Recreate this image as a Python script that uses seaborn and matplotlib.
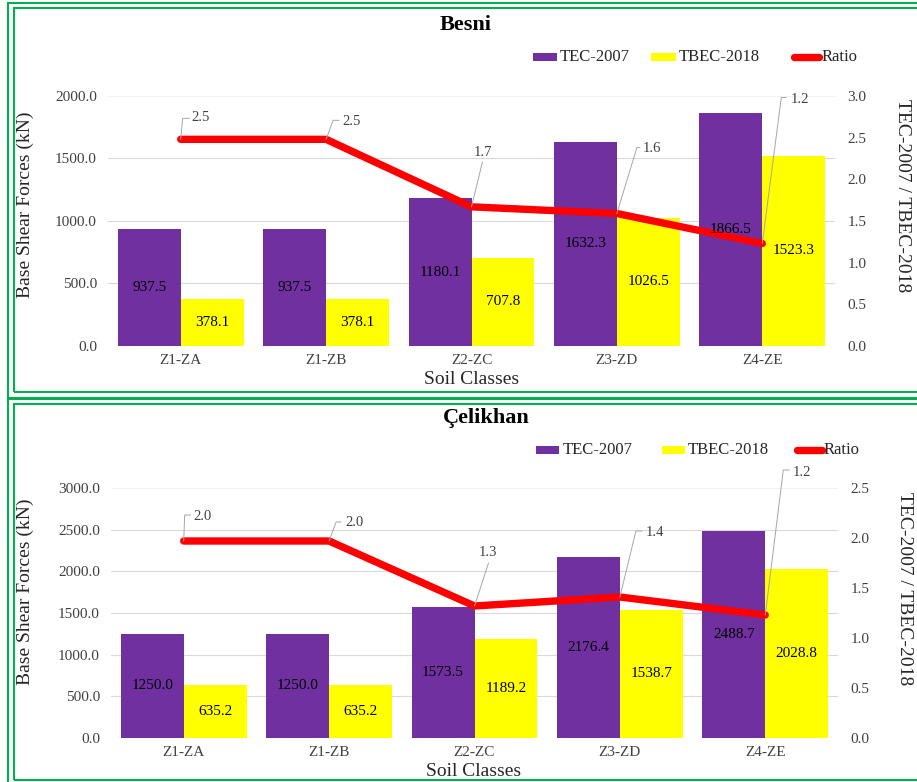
import numpy as np
import pandas as pd
import matplotlib
matplotlib.use("Agg")
import matplotlib.pyplot as plt
import matplotlib.transforms as mtransforms
from matplotlib.patches import Rectangle
from matplotlib.lines import Line2D
import seaborn as sns

# ---------------- data ----------------
soil_classes = ["Z1-ZA", "Z1-ZB", "Z2-ZC", "Z3-ZD", "Z4-ZE"]
codes = ["TEC-2007", "TBEC-2018"]

besni_tec2007 = [937.5, 937.5, 1180.1, 1632.3, 1866.5]
besni_tbec2018 = [378.1, 378.1, 707.8, 1026.5, 1523.3]
besni_ratio = [2.48, 2.48, 1.67, 1.59, 1.23]

celikhan_tec2007 = [1250.0, 1250.0, 1573.5, 2176.4, 2488.7]
celikhan_tbec2018 = [635.2, 635.2, 1189.2, 1538.7, 2028.8]
celikhan_ratio = [1.97, 1.97, 1.32, 1.41, 1.23]

besni_force_ticks = [0, 500, 1000, 1500, 2000]
besni_ratio_ticks = [0.0, 0.5, 1.0, 1.5, 2.0, 2.5, 3.0]
celikhan_force_ticks = [0, 500, 1000, 1500, 2000, 2500, 3000]
celikhan_ratio_ticks = [0.0, 0.5, 1.0, 1.5, 2.0, 2.5]

# ---------------- style ----------------
PURPLE = "#7030A0"
YELLOW = "#FFFF00"
RED = "#FF0000"
GREEN = "#00B050"
GRID = "#D9D9D9"
TICK = "#404040"

sns.set_style("white")
plt.rcParams["font.family"] = ["Liberation Serif", "DejaVu Serif"]

W, H = 917, 782
fig = plt.figure(figsize=(W / 100, H / 100), dpi=100)


def px_rect(x0, y0, x1, y1):
    return [x0 / W, 1 - y1 / H, (x1 - x0) / W, (y1 - y0) / H]


def fx(x):
    return x / W


def fy(y):
    return 1 - y / H


# double green frame around each panel
for (x0, y0, x1, y1) in [(8.3, 2.5, 940, 397.5), (13.7, 7.5, 935, 392.0),
                         (8.3, 398.5, 940, 800), (13.7, 403.5, 935, 779.5)]:
    fig.add_artist(Rectangle((fx(x0), fy(y1)), (x1 - x0) / W, (y1 - y0) / H,
                             transform=fig.transFigure, fill=False,
                             edgecolor=GREEN, linewidth=1.5))


def draw_panel(title, tec, tbec, ratio, force_ticks, ratio_ticks, box,
               title_xy, xlabel_xy, ylabel_xy, y2label_xy, legend_spec, leaders):
    df = pd.DataFrame({
        "Soil": soil_classes * 2,
        "Code": [codes[0]] * len(tec) + [codes[1]] * len(tbec),
        "Force": list(tec) + list(tbec),
    })
    ax = fig.add_axes(px_rect(*box))
    sns.barplot(data=df, x="Soil", y="Force", hue="Code",
                palette=[PURPLE, YELLOW], saturation=1, width=0.866,
                errorbar=None, legend=False, ax=ax, edgecolor="none")

    ax.set_ylim(0, force_ticks[-1])
    ax.set_yticks(force_ticks)
    ax.set_yticklabels([f"{v:.1f}" for v in force_ticks])
    ax.set_xlabel("")
    ax.set_ylabel("")
    ax.yaxis.grid(True, color=GRID, linewidth=0.8)
    ax.xaxis.grid(False)
    ax.set_axisbelow(True)
    for s in ax.spines.values():
        s.set_visible(False)
    ax.tick_params(axis="both", length=0)
    ax.tick_params(axis="y", pad=8, labelsize=11, labelcolor=TICK)
    ax.tick_params(axis="x", pad=6, labelsize=11, labelcolor=TICK)
    ax.yaxis.get_gridlines()[-1].set_color("#F2F2F2")

    ax2 = ax.twinx()
    sns.lineplot(x=np.arange(len(ratio)), y=ratio, ax=ax2, color=RED,
                 linewidth=5.3, solid_capstyle="round", solid_joinstyle="round",
                 sort=False)
    ax2.set_ylim(0, ratio_ticks[-1])
    ax2.set_yticks(ratio_ticks)
    ax2.set_yticklabels([f"{v:.1f}" for v in ratio_ticks])
    ax2.set_ylabel("")
    ax2.grid(False)
    for s in ax2.spines.values():
        s.set_visible(False)
    ax2.tick_params(axis="both", length=0)
    ax2.tick_params(axis="y", pad=9, labelsize=11, labelcolor=TICK)
    ax.set_xlim(-0.5, len(soil_classes) - 0.5)

    # bar values, centred in each bar, drawn above the ratio line
    for container in ax.containers:
        for bar in container:
            h = bar.get_height()
            ax2.text(bar.get_x() + bar.get_width() / 2, h / 2, f"{h:.1f}",
                     transform=ax.transData, ha="center", va="center",
                     fontsize=11, color="black", zorder=5)

    # ratio labels with leader lines
    for i, (r, (cx, cy, ex, ey, lx, ly, ha)) in enumerate(zip(ratio, leaders)):
        tr = mtransforms.IdentityTransform() + \
            mtransforms.ScaledTranslation(i, r, ax2.transData)
        fig.add_artist(Line2D([0, cx, ex], [0, cy, ey], transform=tr,
                              color="#A6A6A6", linewidth=0.7))
        ax2.annotate(f"{r:.1f}", xy=(i, r), xytext=(lx, ly),
                     textcoords="offset pixels", ha=ha, va="center",
                     fontsize=10.5, color=TICK, annotation_clip=False)

    # titles and axis labels
    fig.text(fx(title_xy[0]), fy(title_xy[1]), title, ha="center", va="center",
             fontsize=16, fontweight="bold", color="black")
    fig.text(fx(xlabel_xy[0]), fy(xlabel_xy[1]), "Soil Classes", ha="center",
             va="center", fontsize=14, color="#262626")
    fig.text(fx(ylabel_xy[0]), fy(ylabel_xy[1]), "Base Shear Forces (kN)",
             ha="center", va="center", rotation=90, fontsize=14, color="#262626")
    fig.text(fx(y2label_xy[0]), fy(y2label_xy[1]), "TEC-2007 / TBEC-2018",
             ha="center", va="center", rotation=270, fontsize=14, color="#262626")

    # legend
    (p0, p1, pt), (y0_, y1_, yt), (r0, r1, rt), ly_ = legend_spec
    for (a, b), c in [((p0, p1), PURPLE), ((y0_, y1_), YELLOW)]:
        fig.add_artist(Rectangle((fx(a), fy(ly_ + 4.2)), (b - a) / W, 8.4 / H,
                                 transform=fig.transFigure, facecolor=c,
                                 edgecolor="none"))
    fig.add_artist(Line2D([fx(r0), fx(r1)], [fy(ly_), fy(ly_)],
                          transform=fig.transFigure, color=RED, linewidth=5.3,
                          solid_capstyle="round"))
    for x, t in [(pt, codes[0]), (yt, codes[1]), (rt, "Ratio")]:
        fig.text(fx(x), fy(ly_), t, ha="left", va="center", fontsize=12,
                 color="#262626")
    return ax, ax2


draw_panel(
    "Besni", besni_tec2007, besni_tbec2018, besni_ratio,
    besni_force_ticks, besni_ratio_ticks,
    box=(108, 96, 835, 346),
    title_xy=(466, 25), xlabel_xy=(472, 380), ylabel_xy=(25, 205),
    y2label_xy=(903, 196),
    legend_spec=((533, 557, 560), (651, 676, 679), (794, 819, 822), 57),
    leaders=[(2, 21, 9, 21, 11, 22, "left"), (7, 19, 13, 19, 16, 18, "left"),
             (11, 45, 11, 45, 11, 54, "center"), (20, 66, 23, 66, 26, 65, "left"),
             (19, 146, 24, 146, 28, 144, "left")],
)

draw_panel(
    "Çelikhan", celikhan_tec2007, celikhan_tbec2018, celikhan_ratio,
    celikhan_force_ticks, celikhan_ratio_ticks,
    box=(111, 488, 838, 738),
    title_xy=(486, 418), xlabel_xy=(474, 771), ylabel_xy=(25, 592),
    y2label_xy=(905, 589),
    legend_spec=((536, 559, 563), (662, 685, 688), (797, 822, 824), 450),
    leaders=[(1, 26, 7, 26, 10, 25, "left"), (7, 19, 12, 19, 16, 19, "left"),
             (14, 43, 14, 43, 13, 53, "center"), (16, 66, 22, 66, 26, 64, "left"),
             (18, 145, 24, 145, 27, 143, "left")],
)

fig.savefig("out.png", dpi=100)
